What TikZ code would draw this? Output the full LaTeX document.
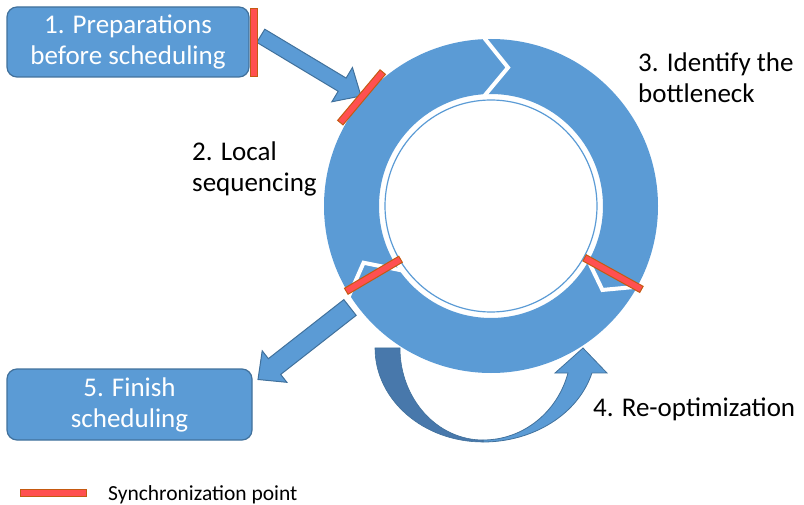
\documentclass[tikz,border=0pt]{standalone}
\usepackage{fontspec}
\setmainfont{Carlito}
\usetikzlibrary{calc}

\definecolor{cblue}{HTML}{5B9BD5}
\definecolor{cedge}{HTML}{41719C}
\definecolor{cshade}{HTML}{4878AB}
\definecolor{csync}{HTML}{FF5050}
\definecolor{csyncedge}{HTML}{C55A11}

% block arrow: #1 style, #2 tail, #3 tip, #4 half shaft width, #5 half head width, #6 head length
\newcommand{\blockarrow}[6]{%
  \coordinate (hb) at ($(#3)!#6!(#2)$);
  \path[#1] ($(#2)!#4!90:(#3)$) -- ($(hb)!#4!90:(#3)$) -- ($(hb)!#5!90:(#3)$)
    -- (#3) -- ($(hb)!#5!-90:(#3)$) -- ($(hb)!#4!-90:(#3)$) -- ($(#2)!#4!-90:(#3)$) -- cycle;}

\begin{document}
\begin{tikzpicture}[x=1pt, y=-1pt,
  stepbox/.style={draw=cedge, line width=1.2pt, fill=cblue, rounded corners=10pt,
    text=white, align=center, inner sep=0pt, font=\fontsize{27}{31}\selectfont},
  steplabel/.style={align=left, inner sep=0pt, text=black, font=\fontsize{27}{31}\selectfont},
  syncbar/.style={rectangle, fill=csync, draw=csyncedge, line width=1pt, inner sep=0pt},
  flowarrow/.style={fill=cblue, draw=cedge, line width=1pt},
  gap/.style={draw=white, line width=4pt, line join=miter}]

\useasboundingbox (0,0) rectangle (804,505);

% boxes for the first and last step
\node[stepbox, minimum width=242pt, minimum height=70pt] (prep) at (128,42) {1. Preparations\\before scheduling};
\node[stepbox, minimum width=245pt, minimum height=71pt] (fin) at (129.5,404.5) {5. Finish\\scheduling};

% arrows into and out of the cycle
\coordinate (c) at (491,206);
\coordinate (intail) at (260.8,35.8);
\coordinate (intip) at (361,96);
\coordinate (outtail) at (350,307.5);
\coordinate (outtip) at (258,379.5);
\blockarrow{flowarrow}{intail}{intip}{7.7pt}{20pt}{22pt}
\blockarrow{flowarrow}{outtail}{outtip}{10pt}{20pt}{21pt}

% re-optimization loop below the cycle
\fill[cshade, draw=cedge, line width=0.6pt] (375,348) arc[start angle=180, end angle=90, x radius=108, y radius=94]
  -- (483,440) arc[start angle=90, end angle=180, x radius=83, y radius=92] -- cycle;
\path[flowarrow, line width=0.8pt] (483,442) arc[start angle=90, end angle=15.4, x radius=113, y radius=94]
  -- (607,373) -- (583,348) -- (555,373) -- (568,373)
  arc[start angle=15.77, end angle=90, x radius=88, y radius=92] -- cycle;

% the cycle ring with its three segment joints
\fill[cblue, even odd rule] (c) circle[radius=167pt] (c) circle[radius=112pt];
\draw[gap] ([shift={(c)}]-93:171) -- ([shift={(c)}]-83:139.5) -- ([shift={(c)}]-94.6:108);
\draw[gap] ([shift={(c)}]28:171) -- ([shift={(c)}]37:139.5) -- ([shift={(c)}]28:108);
\draw[gap] ([shift={(c)}]147:171) -- ([shift={(c)}]156:139.5) -- ([shift={(c)}]143:108);
\draw[cblue, line width=1.2pt] (c) circle[radius=106pt];

% synchronization points
\node[syncbar, minimum width=7pt, minimum height=68pt] (sync1) at (254,43) {};
\node[syncbar, minimum width=66pt, minimum height=7pt, rotate=50] (sync2) at ([shift={(c)}]-140:169) {};
\node[syncbar, minimum width=63pt, minimum height=7pt, rotate=-149.5] (sync3) at ([shift={(c)}]149.5:136.5) {};
\node[syncbar, minimum width=65pt, minimum height=7pt, rotate=-29] (sync4) at ([shift={(c)}]29:139.5) {};

% step labels around the cycle (base anchor sits on the last line)
\node[steplabel, anchor=base west] (local) at (192,192) {2. Local\\sequencing};
\node[steplabel, anchor=base west] (bottle) at (638,103) {3. Identify the\\bottleneck};
\node[steplabel, anchor=base west] (reopt) at (593,417) {4. Re-optimization};

% legend
\node[syncbar, minimum width=66pt, minimum height=7pt] (legbar) at (53.5,493) {};
\node[anchor=base west, inner sep=0pt, font=\fontsize{21.5}{26}\selectfont] (legtext) at (108,500) {Synchronization point};

\end{tikzpicture}
\end{document}
